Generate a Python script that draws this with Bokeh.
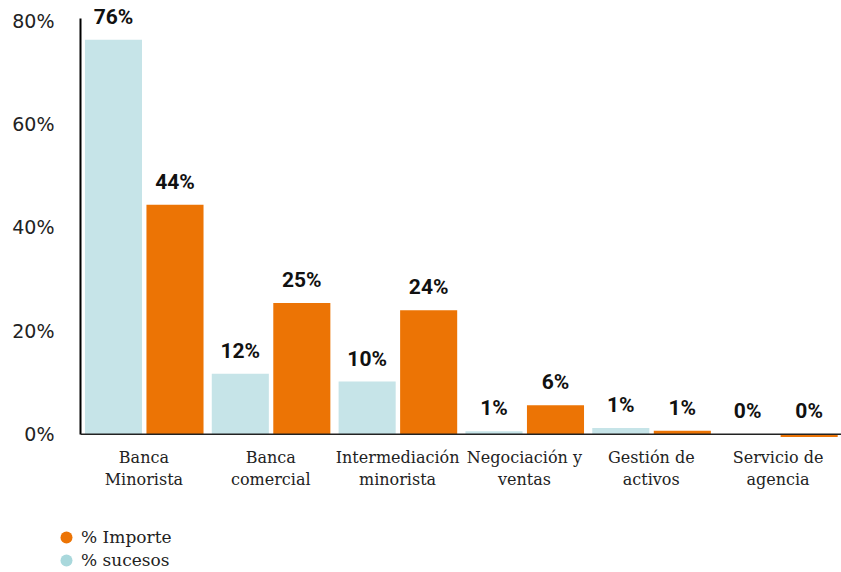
import numpy as np
from bokeh.plotting import figure
from bokeh.layouts import column
from bokeh.models import (ColumnDataSource, FactorRange, Span, Legend, LegendItem,
                          FixedTicker, PrintfTickFormatter)
from bokeh.transform import dodge
from bokeh.embed import file_html
from bokeh.resources import INLINE
from bokeh.core.properties import value

# ---- data ----
categories = ["Banca\nMinorista", "Banca\ncomercial", "Intermediación\nminorista",
              "Negociación y\nventas", "Gestión de\nactivos", "Servicio de\nagencia"]
sucesos = [76.3, 11.7, 10.2, 0.6, 1.2, 0.0]
importe = [44.4, 25.4, 24.0, 5.6, 0.7, -0.5]
sucesos_labels = ["76%", "12%", "10%", "1%", "1%", "0%"]
importe_labels = ["44%", "25%", "24%", "6%", "1%", "0%"]
y_ticks = [0, 20, 40, 60, 80]
series_names = ["% Importe", "% sucesos"]

BLUE = "#c6e4e8"
BLUE_DOT = "#a9d8dc"
ORANGE = "#ec7405"

src = ColumnDataSource(data=dict(
    cat=categories,
    sucesos=sucesos,
    importe=importe,
    s_label=sucesos_labels,
    i_label=importe_labels,
    s_y=[max(v, 0) for v in sucesos],
    i_y=[max(v, 0) for v in importe],
))

p = figure(width=841, height=500, x_range=FactorRange(*categories), y_range=(-1, 83.88),
           output_backend="svg", toolbar_location=None,
           min_border_left=80, min_border_right=0, min_border_top=0, min_border_bottom=61)

p.background_fill_color = "white"
p.border_fill_color = "white"
p.outline_line_color = None
p.xgrid.grid_line_color = None
p.ygrid.grid_line_color = None

s_off, i_off, bw = -0.24, 0.245, 0.45

p.vbar(x=dodge("cat", s_off, range=p.x_range), top="sucesos", bottom=0, width=bw,
       source=src, fill_color=BLUE, line_color=None)
p.vbar(x=dodge("cat", i_off, range=p.x_range), top="importe", bottom=0, width=bw,
       source=src, fill_color=ORANGE, line_color=None)

for off, ycol, tcol in [(s_off, "s_y", "s_label"), (i_off, "i_y", "i_label")]:
    p.text(x=dodge("cat", off, range=p.x_range), y=ycol, text=tcol, source=src,
           text_align="center", text_baseline="alphabetic", y_offset=-23,
           text_font=value("Roboto"), text_font_style="bold", text_font_size="21px",
           text_color="#111111")

p.add_layout(Span(location=0, dimension="width", line_color="#222222", line_width=1.5))

# y axis
p.yaxis.ticker = FixedTicker(ticks=y_ticks)
p.yaxis.formatter = PrintfTickFormatter(format="%d%%")
p.yaxis.bounds = (0, 80.4)
p.yaxis.axis_line_color = "#000000"
p.yaxis.axis_line_width = 2
p.yaxis.major_tick_line_color = None
p.yaxis.minor_tick_line_color = None
p.yaxis.major_label_standoff = 20
p.yaxis.major_label_text_font = "DejaVu Sans"
p.yaxis.major_label_text_font_size = "19px"
p.yaxis.major_label_text_color = "#222222"

# x axis
p.xaxis.axis_line_color = None
p.xaxis.major_tick_line_color = None
p.xaxis.minor_tick_line_color = None
p.xaxis.major_label_standoff = 2
p.xaxis.major_label_text_font = "DejaVu Serif"
p.xaxis.major_label_text_font_size = "16px"
p.xaxis.major_label_text_line_height = 1.16
p.xaxis.major_label_text_color = "#222222"

# legend figure
p2 = figure(width=841, height=72, x_range=(0, 1), y_range=(0, 1),
            output_backend="svg", toolbar_location=None,
            min_border_left=0, min_border_right=0, min_border_top=0, min_border_bottom=0)
p2.frame_align = False
p2.axis.visible = False
p2.grid.visible = False
p2.outline_line_color = None
p2.background_fill_color = "white"
p2.border_fill_color = "white"

nan_src = dict(x=np.array([np.nan]), y=np.array([np.nan]))
r_imp = p2.scatter(x="x", y="y", source=ColumnDataSource(nan_src), marker="circle",
                   fill_color=ORANGE, line_color=None)
r_suc = p2.scatter(x="x", y="y", source=ColumnDataSource(dict(nan_src)), marker="circle",
                   fill_color=BLUE_DOT, line_color=None)

common = dict(orientation="vertical", glyph_width=30, glyph_height=30, label_height=30,
              label_standoff=-3, padding=0, margin=0, spacing=0,
              border_line_color=None, background_fill_alpha=0,
              label_text_font="DejaVu Serif", label_text_font_size="17px",
              label_text_color="#222222")
leg1 = Legend(items=[LegendItem(label=series_names[0], renderers=[r_imp])],
              location=(51, 20), **common)
leg2 = Legend(items=[LegendItem(label=series_names[1], renderers=[r_suc])],
              location=(51, -3), **common)
p2.add_layout(leg1)
p2.add_layout(leg2)

layout = column(p, p2, spacing=0)
open("out.html", "w").write(file_html(layout, INLINE))
